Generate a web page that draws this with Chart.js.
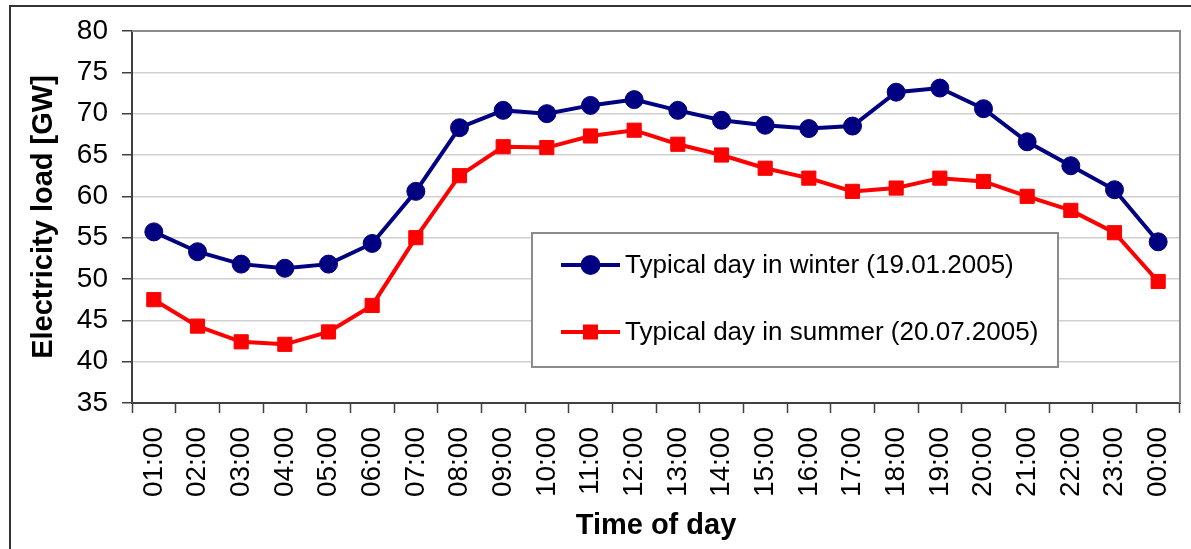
<!DOCTYPE html>
<html>
<head>
<meta charset="utf-8">
<script src="https://cdn.jsdelivr.net/npm/chart.js@4"></script>
<style>
  body { margin: 0; background: #fff; }
  #wrap { width: 1191px; height: 549px; }
</style>
</head>
<body>
<div id="wrap"><canvas id="plot1" width="1191" height="549"></canvas></div>
<script>
const horas = ['01:00', '02:00', '03:00', '04:00', '05:00', '06:00', '07:00', '08:00',
    '09:00', '10:00', '11:00', '12:00', '13:00', '14:00', '15:00', '16:00',
    '17:00', '18:00', '19:00', '20:00', '21:00', '22:00', '23:00', '00:00'];

const invierno = [55.7, 53.3, 51.8, 51.3, 51.8, 54.3, 60.6, 68.3, 70.4, 70.0, 71.0, 71.7,
    70.4, 69.2, 68.6, 68.2, 68.5, 72.6, 73.1, 70.6, 66.6, 63.7, 60.8, 54.5];

const verano = [47.5, 44.3, 42.4, 42.1, 43.6, 46.8, 55.0, 62.5, 66.0, 65.9, 67.3, 68.0,
    66.3, 65.0, 63.4, 62.2, 60.6, 61.0, 62.2, 61.8, 60.0, 58.3, 55.6, 49.7];

const etiquetaInvierno = 'Typical day in winter (19.01.2005)';
const etiquetaVerano = 'Typical day in summer (20.07.2005)';

const fuente = "'Liberation Sans', Arial, sans-serif";

// marco exterior + borde superior/derecho del area del grafico
const marcos = {
    id: 'marcos',
    beforeDraw(chart) {
        const c = chart.ctx;
        c.save();
        c.fillStyle = '#fff';
        c.fillRect(0, 0, chart.width, chart.height);
        c.strokeStyle = '#333';
        c.lineWidth = 2;
        c.beginPath();
        c.moveTo(10, chart.height);
        c.lineTo(10, 6);
        c.lineTo(chart.width, 6);
        c.stroke();
        c.restore();
    },
    afterDatasetsDraw(chart) {
        const c = chart.ctx;
        const a = chart.chartArea;
        c.save();
        c.strokeStyle = '#8c8c8c';
        c.lineWidth = 2;
        c.beginPath();
        c.moveTo(a.left, a.top);
        c.lineTo(a.right, a.top);
        c.lineTo(a.right, a.bottom);
        c.stroke();
        c.restore();
    }
};

// leyenda dibujada dentro del area
const leyenda = {
    id: 'leyenda',
    afterDraw(chart) {
        const c = chart.ctx;
        const x = 532, y = 233, w = 526, h = 134;
        c.save();
        c.fillStyle = '#fff';
        c.fillRect(x, y, w, h);
        c.strokeStyle = '#8c8c8c';
        c.lineWidth = 2;
        c.strokeRect(x, y, w, h);
        const filas = [265, 332];
        chart.data.datasets.forEach((ds, i) => {
            const yy = filas[i];
            c.strokeStyle = ds.borderColor;
            c.lineWidth = ds.borderWidth;
            c.beginPath();
            c.moveTo(561, yy);
            c.lineTo(620, yy);
            c.stroke();
            c.fillStyle = ds.pointBackgroundColor;
            if (ds.pointStyle === 'rect') {
                c.fillRect(583, yy - 7.5, 15, 15);
            } else {
                c.beginPath();
                c.arc(590.5, yy, 10, 0, Math.PI * 2);
                c.fill();
            }
            c.fillStyle = '#000';
            c.font = '26px ' + fuente;
            c.textBaseline = 'middle';
            c.fillText(ds.label, 625, yy + 1);
        });
        c.restore();
    }
};

let ctx = document.getElementById('plot1').getContext('2d');

let grafica1 = new Chart(ctx, {
    type: 'line',
    data: {
        labels: horas,
        datasets: [{
            label: etiquetaInvierno,
            data: invierno,
            borderColor: '#000080',
            backgroundColor: '#000080',
            pointBackgroundColor: '#000080',
            pointBorderColor: '#000080',
            borderWidth: 4,
            pointRadius: 9,
            pointBorderWidth: 1,
            pointStyle: 'circle',
            tension: 0
        }, {
            label: etiquetaVerano,
            data: verano,
            borderColor: '#ff0000',
            backgroundColor: '#ff0000',
            pointBackgroundColor: '#ff0000',
            pointBorderColor: '#ff0000',
            borderWidth: 4,
            pointRadius: 10,
            pointBorderWidth: 1,
            pointStyle: 'rect',
            tension: 0
        }]
    },
    options: {
        responsive: false,
        animation: false,
        devicePixelRatio: 1,
        layout: { padding: { top: 31, right: 10, left: 0, bottom: 0 } },
        plugins: {
            legend: { display: false },
            tooltip: { enabled: false }
        },
        scales: {
            x: {
                offset: true,
                afterFit: (s) => {
                    s.height = 146
                    s.paddingLeft = 0
                    s.paddingRight = 0
                },
                grid: {
                    offset: true,
                    drawOnChartArea: false,
                    drawTicks: true,
                    tickLength: 10,
                    tickColor: '#404040',
                    tickWidth: 1.5
                },
                border: { color: '#404040', width: 2 },
                ticks: {
                    autoSkip: false,
                    minRotation: 90,
                    maxRotation: 90,
                    padding: 14,
                    color: '#000',
                    font: { family: fuente, size: 28 }
                },
                title: {
                    display: true,
                    text: 'Time of day',
                    color: '#000',
                    padding: { top: 0, bottom: 9 },
                    font: { family: fuente, size: 29, weight: 'bold', lineHeight: 1 }
                }
            },
            y: {
                min: 35,
                max: 80,
                afterFit: (s) => {
                    s.width = 132
                    s.paddingTop = 0
                    s.paddingBottom = 0
                },
                grid: {
                    color: '#d0d0d0',
                    lineWidth: 1.5,
                    drawTicks: true,
                    tickLength: 10,
                    tickColor: '#404040',
                    tickWidth: 1.5
                },
                border: { color: '#404040', width: 2 },
                ticks: {
                    stepSize: 5,
                    padding: 14,
                    color: '#000',
                    font: { family: fuente, size: 28 }
                },
                title: {
                    display: true,
                    text: 'Electricity load [GW]',
                    color: '#000',
                    padding: { top: 29, bottom: 0 },
                    font: { family: fuente, size: 29, weight: 'bold', lineHeight: 1 }
                }
            }
        }
    },
    plugins: [marcos, leyenda]
});
</script>
</body>
</html>
